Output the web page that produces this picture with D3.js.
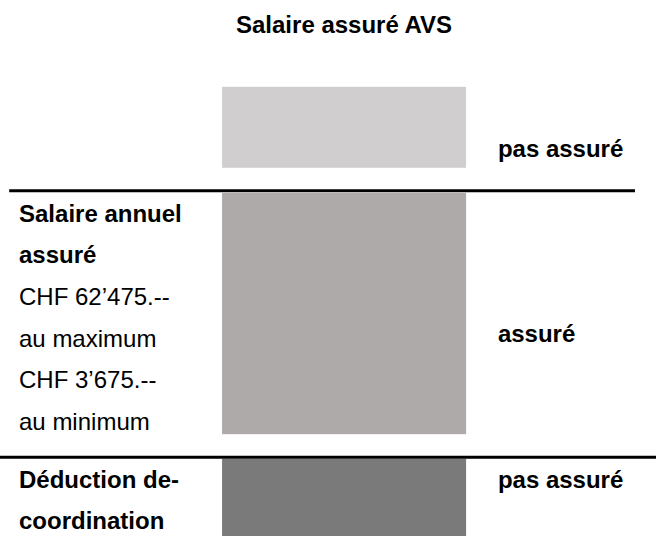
<!DOCTYPE html>
<html>
<head>
<meta charset="utf-8">
<script src="https://cdn.jsdelivr.net/npm/d3@7"></script>
<style>
  body { margin: 0; background: #fff; }
  text { font-family: "Liberation Sans", Arial, sans-serif; fill: #000; }
</style>
</head>
<body>
<script>
let width = 656,
    height = 536;

// schematic: vertical position in % of the picture height
let segments   = ["pas assuré", "assuré", "pas assuré"];
let segStart   = [16.2, 36.0, 85.6];
let segEnd     = [31.3, 81.0, 101];
let segColors  = ["#d0cecf", "#aeaaa9", "#7a7a7a"];
let labelPos   = [29.3, 63.8, 91.0];   // right labels (baseline)
let dividers   = [35.6, 85.3];

let leftLines  = ["Salaire annuel", "assuré", "CHF 62\u2019475.--", "au maximum", "CHF 3\u2019675.--", "au minimum"];
let leftBold   = [true, true, false, false, false, false];
let bottomLines = ["Déduction de-", "coordination"];

let title = "Salaire assuré AVS";

let svg = d3.select("body")
            .append("svg")
            .attr("width", width)
            .attr("height", height);

let yScale = d3.scaleLinear().domain([0, 100]).range([0, height]);
let xScale = d3.scaleLinear().domain([0, 100]).range([0, width]);

let barX0 = xScale(33.85), barX1 = xScale(71.05);

// title
svg.append("text")
   .attr("x", (barX0 + barX1) / 2)
   .attr("y", yScale(6.15))
   .attr("text-anchor", "middle")
   .style("font-size", "24px")
   .style("font-weight", "bold")
   .text(title);

// stacked segments
svg.selectAll("rect.seg")
   .data(segments)
   .enter()
   .append("rect")
   .attr("class", "seg")
   .attr("x", barX0)
   .attr("width", barX1 - barX0)
   .attr("y", (d, i) => yScale(segStart[i]))
   .attr("height", (d, i) => yScale(segEnd[i]) - yScale(segStart[i]))
   .style("fill", (d, i) => segColors[i]);

// dividing lines
svg.selectAll("line.div")
   .data(dividers)
   .enter()
   .append("line")
   .attr("x1", (d, i) => i === 0 ? xScale(1.4) : 0)
   .attr("x2", (d, i) => i === 0 ? xScale(96.8) : width)
   .attr("y1", d => yScale(d))
   .attr("y2", d => yScale(d))
   .style("stroke", "#000")
   .style("stroke-width", 3);

// right labels
svg.selectAll("text.seglabel")
   .data(segments)
   .enter()
   .append("text")
   .attr("class", "seglabel")
   .attr("x", xScale(75.9))
   .attr("y", (d, i) => yScale(labelPos[i]))
   .style("font-size", "24px")
   .style("font-weight", "bold")
   .text(d => d);

// left labels
let rowY = d3.scaleLinear().domain([0, leftLines.length - 1]).range([yScale(41.4), yScale(80.2)]);

svg.selectAll("text.left")
   .data(leftLines)
   .enter()
   .append("text")
   .attr("class", "left")
   .attr("x", xScale(2.9))
   .attr("y", (d, i) => rowY(i))
   .style("font-size", "24px")
   .style("font-weight", (d, i) => leftBold[i] ? "bold" : "normal")
   .text(d => d);

svg.selectAll("text.bottom")
   .data(bottomLines)
   .enter()
   .append("text")
   .attr("class", "bottom")
   .attr("x", xScale(2.9))
   .attr("y", (d, i) => yScale(91.0) + i * (rowY(1) - rowY(0)))
   .style("font-size", "24px")
   .style("font-weight", "bold")
   .text(d => d);
</script>
</body>
</html>
